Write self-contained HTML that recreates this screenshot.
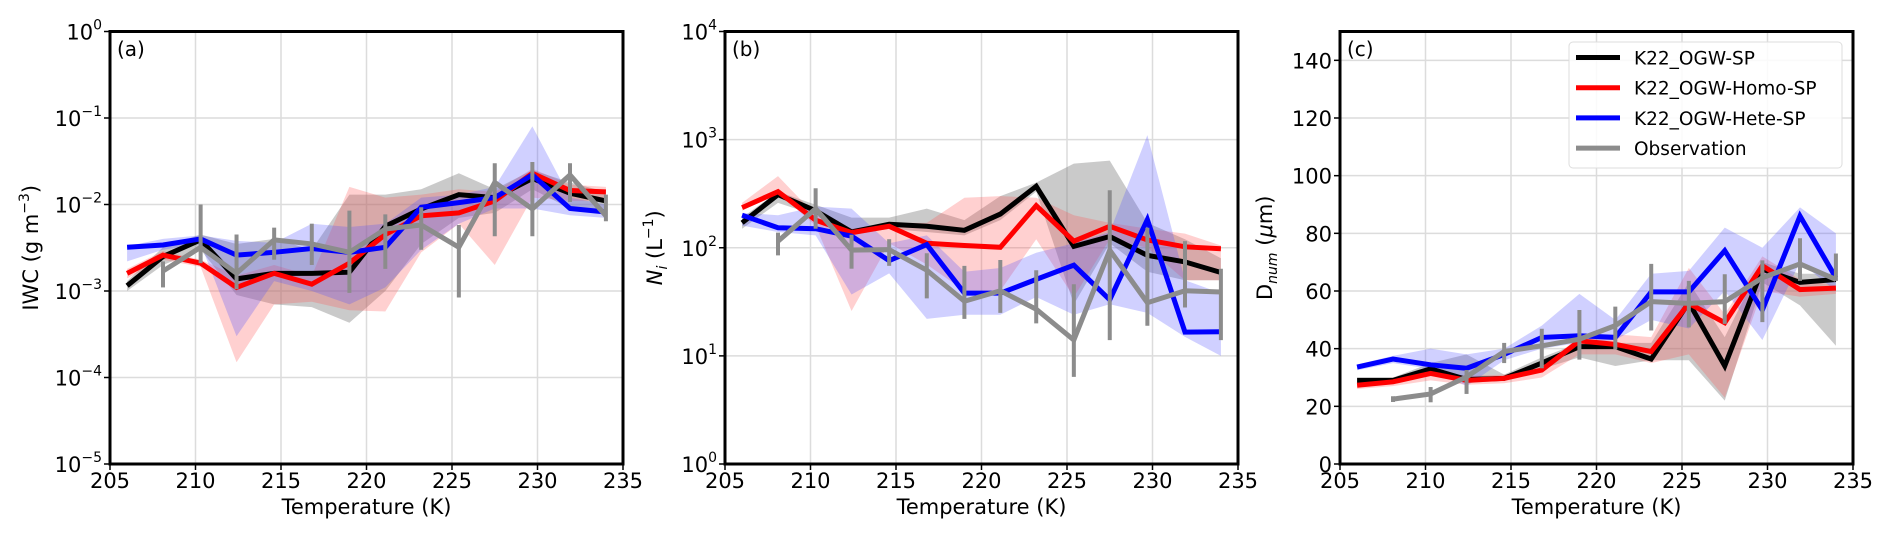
<!DOCTYPE html>
<html><head><meta charset="utf-8">
<style>
body{margin:0;background:#fff;}
svg{display:block;font-family:"DejaVu Sans","Liberation Sans",sans-serif;}
</style></head>
<body>
<svg id="chart" width="1892" height="537" viewBox="0 0 1892 537" xmlns="http://www.w3.org/2000/svg"></svg>
<script>
const temps=[206,208.1,210.3,212.4,214.6,216.8,219,221.1,223.2,225.4,227.5,229.7,231.9,234];
const obsTemps=[208.1,210.3,212.4,214.6,216.8,219,221.1,223.2,225.4,227.5,229.7,231.9,234];
const xTicks=[205,210,215,220,225,230,235];
// Panel a: IWC
const iwcBlack=[1.15e-3,2.5e-3,3.9e-3,1.38e-3,1.6e-3,1.6e-3,1.65e-3,5.6e-3,8.9e-3,1.3e-2,1.2e-2,2e-2,1.35e-2,1.1e-2];
const iwcRed=[1.6e-3,2.6e-3,2.1e-3,1.1e-3,1.6e-3,1.2e-3,2.1e-3,4.5e-3,7.4e-3,8e-3,1.1e-2,2.3e-2,1.45e-2,1.4e-2];
const iwcBlue=[3.2e-3,3.4e-3,4e-3,2.6e-3,2.8e-3,3.1e-3,2.8e-3,3.2e-3,9.3e-3,1.05e-2,1.2e-2,2.2e-2,9e-3,8.2e-3];
const iwcObs=[1.7e-3,3.2e-3,1.6e-3,3.9e-3,3.5e-3,2.8e-3,5.2e-3,5.8e-3,3.2e-3,1.8e-2,8.9e-3,2.2e-2,7.4e-3];
const iwcObsHi=[2.2e-3,1e-2,4.5e-3,5.4e-3,6e-3,8.5e-3,7.7e-3,9.3e-3,5.8e-3,3e-2,3.1e-2,3e-2,1.3e-2];
const iwcObsLo=[1.1e-3,2.1e-3,1.05e-3,2.3e-3,2e-3,9.5e-4,1.8e-3,3e-3,8.4e-4,4.3e-3,4.3e-3,1.07e-2,6.4e-3];
const iwcBlackHi=[1.3e-3,3.2e-3,4.5e-3,3.5e-3,4e-3,3e-3,1.3e-2,1.3e-2,1.5e-2,2.3e-2,1.5e-2,2.5e-2,1.8e-2,1.4e-2];
const iwcBlackLo=[1e-3,2e-3,3e-3,9e-4,7e-4,6.5e-4,4.3e-4,1e-3,3.5e-3,7e-3,8e-3,1.5e-2,9e-3,8e-3];
const iwcRedHi=[1.8e-3,2.9e-3,2.3e-3,1.5e-3,2e-3,1.5e-3,1.6e-2,1.2e-2,1.3e-2,1.5e-2,1.4e-2,2.6e-2,1.7e-2,1.6e-2];
const iwcRedLo=[1.4e-3,2.3e-3,1.9e-3,1.5e-4,7e-4,7.5e-4,6e-4,5.8e-4,2.8e-3,6e-3,2e-3,1.2e-2,1.1e-2,1.1e-2];
const iwcBlueHi=[3.3e-3,4e-3,4.4e-3,3.8e-3,3.6e-3,6e-3,5.5e-3,6e-3,1.2e-2,1.3e-2,1.6e-2,8e-2,1.2e-2,1e-2];
const iwcBlueLo=[2.2e-3,3e-3,3.5e-3,3e-4,1.3e-3,1e-3,7e-4,1.1e-3,3e-3,6e-3,9e-3,9e-3,7.5e-3,7e-3];
// Panel b: Ni
const niBlack=[170,310,220,140,165,158,145,205,370,103,127,85,74,59];
const niRed=[235,330,180,138,158,110,105,101,245,115,158,118,102,98];
const niBlue=[200,153,150,128,76,107,38,38,51,69,33,182,16.6,16.7];
const niObs=[115,230,95,96,62,32,40,27,14,95,31,40,39];
const niObsHi=[138,355,132,120,89,68,77,62,46,340,153,115,64];
const niObsLo=[85,150,64,68,34,22,25,20,6.4,14,19,28,14];
const niBlackHi=[190,330,250,190,190,230,180,300,400,600,640,170,120,80];
const niBlackLo=[150,260,200,130,150,140,130,180,330,30,110,60,50,50];
const niRedHi=[260,460,200,150,170,170,290,300,290,200,170,150,135,105];
const niRedLo=[220,320,160,26,110,70,40,40,120,35,120,100,50,50];
const niBlueHi=[210,200,240,230,110,130,60,65,90,110,140,1100,50,38];
const niBlueLo=[160,140,130,37,58,22,24,24,35,24,30,25,15,10];
// Panel c: Dnum
const dBlack=[29,29,33,29.3,29.7,35,40.7,40.7,36.4,56,34,67.6,63,64];
const dRed=[27.3,28.5,31.4,29,29.7,32.6,42.7,41.5,39,55.7,49,68.8,60.5,61];
const dBlue=[33.6,36.4,34.4,33.2,38,43.9,44.5,43.9,59.7,59.7,74,53.4,86,64.6];
const dObs=[22.5,24.3,30.2,39,41,43.3,48,56.3,55.7,56.3,64.6,69.4,64];
const dObsHi=[23.5,26.7,32.6,42,46.9,53.4,54.6,69.4,63.5,65.8,70.6,78.3,73];
const dObsLo=[21.5,21.4,24.3,35,33.2,36.2,39.7,46.3,47.4,48.6,49.2,63.5,63.5];
const dBlackHi=[30,30,35,38,31,37,42,42,42,63,44,70,66,66];
const dBlackLo=[28,28,31,28,29,33,37,34,36,36,22,63,55,41];
const dRedHi=[28.5,30,33,30.5,31,34,44,45,44,68,52,72,64,62];
const dRedLo=[26,27,29,27.5,28,30,38,38,35,38,23,60,58,59];
const dBlueHi=[34.5,37.5,40,38,40,48,59,50,66,67,82,75,89,80];
const dBlueLo=[32.5,35,33,27,36,40,42,43,50,47,60,43,70,60];
const dTicks=[0,20,40,60,80,100,120,140];
const legendLabels=["K22_OGW-SP","K22_OGW-Homo-SP","K22_OGW-Hete-SP","Observation"];

const NS="http://www.w3.org/2000/svg";
const svg=document.getElementById('chart');
function mk(tag,attrs,parent){const e=document.createElementNS(NS,tag);for(const k in attrs)e.setAttribute(k,attrs[k]);(parent||svg).appendChild(e);return e;}
const TOP=31.5,BOT=464;
const colors={k:"#000000",r:"#ff0000",b:"#0000ff",g:"#8c8c8c"};
const fills={k:"rgba(128,128,128,0.42)",r:"rgba(255,80,80,0.27)",b:"rgba(80,80,255,0.27)"};

function panel(id,L,R,yFn,yTicksSpec,label,ylabelHTML,ylabX,data){
  const g=mk('g',{});
  
  
  const xs=t=>L+(t-205)/30*(R-L);
  xTicks.forEach(t=>{const l=mk('line',{x1:xs(t),x2:xs(t),y1:TOP,y2:BOT,stroke:'#dcdcdc','stroke-width':1.5},g);
    });
  yTicksSpec.forEach(tk=>{const y=yFn(tk.v);const l=mk('line',{x1:L,x2:R,y1:y,y2:y,stroke:'#dcdcdc','stroke-width':1.5},g);
    });
  data.bands.forEach(b=>{
    let pts=temps.map((t,i)=>xs(t)+','+yFn(b.hi[i]));
    pts=pts.concat(temps.map((t,i)=>xs(t)+','+yFn(b.lo[i])).reverse());
    const p=mk('polygon',{points:pts.join(' '),fill:fills[b.c],stroke:'none'},g);
    
  });
  data.lines.forEach(s=>{
    const p=mk('polyline',{points:temps.map((t,i)=>xs(t)+','+yFn(s.v[i])).join(' '),fill:'none',stroke:colors[s.c],'stroke-width':5,'stroke-linejoin':'miter'},g);
    
  });
  data.obsErr.hi.forEach((h,i)=>{
    const e=mk('line',{x1:xs(obsTemps[i]),x2:xs(obsTemps[i]),y1:yFn(h),y2:yFn(data.obsErr.lo[i]),stroke:colors.g,'stroke-width':4},g);
    
  });
  const po=mk('polyline',{points:obsTemps.map((t,i)=>xs(t)+','+yFn(data.obs[i])).join(' '),fill:'none',stroke:colors.g,'stroke-width':5},g);
  
  const fr=mk('rect',{x:L,y:TOP,width:R-L,height:BOT-TOP,fill:'none',stroke:'#000','stroke-width':3},g);
  
  xTicks.forEach(t=>{
    mk('line',{x1:xs(t),x2:xs(t),y1:BOT,y2:BOT+6,stroke:'#000','stroke-width':1.5},g);
    const tx=mk('text',{x:xs(t),y:488,'text-anchor':'middle','font-size':21},g);tx.textContent=t;
    
  });
  yTicksSpec.forEach(tk=>{
    const y=yFn(tk.v);
    mk('line',{x1:L-6,x2:L,y1:y,y2:y,stroke:'#000','stroke-width':1.5},g);
    const tx=mk('text',{x:L-8,y:y+8,'text-anchor':'end','font-size':21},g);
    
    if(tk.exp!==undefined){tx.textContent='10';const ts=mk('tspan',{dy:-10,'font-size':14},tx);ts.textContent=tk.exp;}
    else tx.textContent=tk.v;
  });
  const xl=mk('text',{x:(L+R)/2,y:514,'text-anchor':'middle','font-size':21},g);xl.textContent='Temperature (K)';
  
  const pl=mk('text',{x:L+7,y:56,'font-size':20},g);pl.textContent=label;
  
  const yl=mk('text',{x:0,y:0,'text-anchor':'middle','font-size':21,transform:`translate(${ylabX},${(TOP+BOT)/2}) rotate(-90)`},g);
  yl.innerHTML=ylabelHTML;
  
  return xs;
}
const logY=(lo,hi)=>v=>BOT-(Math.log10(v)-lo)/(hi-lo)*(BOT-TOP);
const yA=logY(-5,0), yB=logY(0,4);
const yC=v=>BOT-v/150*(BOT-TOP);
const sup=e=>({v:Math.pow(10,e),exp:e<0?'\u2212'+(-e):String(e)});
panel('a',110,623,yA,[-5,-4,-3,-2,-1,0].map(sup),'(a)','IWC (g m<tspan dy="-9" font-size="14">\u22123</tspan><tspan dy="9">)</tspan>',38,{
  bands:[{n:'k22-ogw-sp',c:'k',hi:iwcBlackHi,lo:iwcBlackLo},{n:'homo',c:'r',hi:iwcRedHi,lo:iwcRedLo},{n:'hete',c:'b',hi:iwcBlueHi,lo:iwcBlueLo}],
  lines:[{n:'k22-ogw-sp',c:'k',v:iwcBlack},{n:'homo',c:'r',v:iwcRed},{n:'hete',c:'b',v:iwcBlue}],
  obs:iwcObs,obsErr:{hi:iwcObsHi,lo:iwcObsLo}});
panel('b',725,1238,yB,[0,1,2,3,4].map(sup),'(b)','<tspan font-style="italic">N</tspan><tspan dy="5" font-size="14" font-style="italic">i</tspan><tspan dy="-5"> (L</tspan><tspan dy="-9" font-size="14">\u22121</tspan><tspan dy="9">)</tspan>',662,{
  bands:[{n:'k22-ogw-sp',c:'k',hi:niBlackHi,lo:niBlackLo},{n:'homo',c:'r',hi:niRedHi,lo:niRedLo},{n:'hete',c:'b',hi:niBlueHi,lo:niBlueLo}],
  lines:[{n:'k22-ogw-sp',c:'k',v:niBlack},{n:'homo',c:'r',v:niRed},{n:'hete',c:'b',v:niBlue}],
  obs:niObs,obsErr:{hi:niObsHi,lo:niObsLo}});
panel('c',1340,1853,yC,dTicks.map(v=>({v})),'(c)','D<tspan dy="5" font-size="14" font-style="italic">num</tspan><tspan dy="-5"> (</tspan><tspan font-style="italic">\u03bc</tspan>m)',1272,{
  bands:[{n:'k22-ogw-sp',c:'k',hi:dBlackHi,lo:dBlackLo},{n:'homo',c:'r',hi:dRedHi,lo:dRedLo},{n:'hete',c:'b',hi:dBlueHi,lo:dBlueLo}],
  lines:[{n:'k22-ogw-sp',c:'k',v:dBlack},{n:'homo',c:'r',v:dRed},{n:'hete',c:'b',v:dBlue}],
  obs:dObs,obsErr:{hi:dObsHi,lo:dObsLo}});
const lg=mk('g',{});


mk('rect',{x:1569,y:42,width:273,height:126,rx:4,fill:'rgba(255,255,255,0.85)',stroke:'#ddd','stroke-width':1},lg);
const lc=['k','r','b','g'];
legendLabels.forEach((lab,i)=>{
  const y=57.5+i*30.2;
  const ln=mk('line',{x1:1576,x2:1620,y1:y,y2:y,stroke:colors[lc[i]],'stroke-width':5},lg);
  
  const t=mk('text',{x:1634,y:y+7,'font-size':18.5},lg);t.textContent=lab;
  
});
</script>
</body></html>
